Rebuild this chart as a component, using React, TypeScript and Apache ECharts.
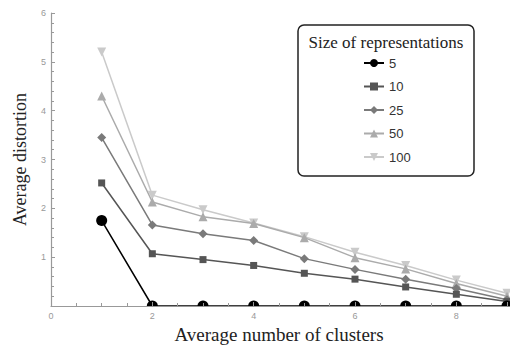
import React, { useEffect, useRef } from "react";
import * as echarts from "echarts";

const clusters = [1, 2, 3, 4, 5, 6, 7, 8, 9];
const seriesNames = ["5", "10", "25", "50", "100"];
const s5 = [1.75, 0, 0, 0, 0, 0, 0, 0, 0];
const s10 = [2.52, 1.07, 0.95, 0.83, 0.67, 0.55, 0.39, 0.24, 0.09];
const s25 = [3.45, 1.66, 1.48, 1.34, 0.97, 0.75, 0.55, 0.36, 0.13];
const s50 = [4.3, 2.13, 1.83, 1.69, 1.4, 0.99, 0.76, 0.46, 0.2];
const s100 = [5.2, 2.27, 1.97, 1.7, 1.42, 1.1, 0.83, 0.53, 0.26];
const allValues = [s5, s10, s25, s50, s100];

const colors = ["#000000", "#555555", "#7a7a7a", "#ababab", "#cacaca"];
const symbols = ["circle", "rect", "diamond", "triangle", "triangle"];
const symbolSizes = [11, 7, 9, 9, 9];
const rotates = [0, 0, 0, 0, 180];

export default function App() {
  const ref = useRef<HTMLDivElement>(null);
  useEffect(() => {
    if (!ref.current) return;
    const chart = echarts.init(ref.current, null, { renderer: "svg" });
    const series = seriesNames.map((name, i) => ({
      name,
      type: "line",
      data: clusters.map((x, j) => [x, allValues[i][j]]),
      symbol: symbols[i],
      symbolSize: symbolSizes[i],
      symbolRotate: rotates[i],
      showAllSymbol: true,
      clip: false,
      lineStyle: { color: colors[i], width: 1.5 },
      itemStyle: { color: colors[i] },
      z: 10 - i,
    }));
    chart.setOption({
      animation: false,
      backgroundColor: "#ffffff",
      grid: { left: 51, right: 3, top: 13, bottom: 40, containLabel: false, outerBoundsMode: "none" },
      xAxis: {
        type: "value",
        min: 0,
        max: 9,
        interval: 2,
        z: 30,
        name: "Average number of clusters",
        nameLocation: "middle",
        nameGap: 19,
        nameTextStyle: { fontFamily: "Liberation Serif", fontSize: 19, color: "#222" },
        axisLine: { lineStyle: { color: "#999", width: 1.2 } },
        axisTick: { inside: true, length: 4, lineStyle: { color: "#999" } },
        minorTick: { show: true, splitNumber: 4, length: 3, lineStyle: { color: "#999" } },
        splitLine: { show: false },
        axisLabel: { showMaxLabel: false, color: "#999", fontSize: 9, margin: 5, fontFamily: "Liberation Sans" },
      },
      yAxis: {
        type: "value",
        min: 0,
        max: 6,
        interval: 1,
        z: 30,
        name: "Average distortion",
        nameLocation: "middle",
        nameGap: 22,
        nameTextStyle: { fontFamily: "Liberation Serif", fontSize: 18, color: "#222" },
        axisLine: { show: true, lineStyle: { color: "#999", width: 1.2 } },
        axisTick: { show: true, inside: true, length: 4, lineStyle: { color: "#999" } },
        minorTick: { show: true, splitNumber: 5, length: 3, lineStyle: { color: "#999" } },
        splitLine: { show: false },
        axisLabel: { showMinLabel: false, color: "#999", fontSize: 9, margin: 5, fontFamily: "Liberation Sans" },
      },
      legend: {
        orient: "vertical",
        left: 363,
        top: 56.5,
        padding: 0,
        itemWidth: 20,
        itemHeight: 10,
        itemGap: 10.5,
        data: seriesNames,
        textStyle: { color: "#333", fontSize: 13, fontFamily: "Liberation Sans" },
        z: 20,
      },
      graphic: [
        {
          type: "rect",
          shape: { x: 51, y: 306.6, width: 459, height: 5.5 },
          style: { fill: "#fff" },
          z: 25,
        },
        {
          type: "rect",
          shape: { x: 298, y: 25, width: 176, height: 151, r: 6 },
          style: { fill: "#fff", stroke: "#222", lineWidth: 1.5 },
          z: 15,
        },
        {
          type: "text",
          x: 386,
          y: 42,
          style: {
            text: "Size of representations",
            font: "17px 'Liberation Serif', serif",
            fontFamily: "Liberation Serif",
            fontSize: 17,
            fill: "#222",
            align: "center",
            verticalAlign: "middle",
          },
          z: 16,
        },
      ],
      series,
    });
    return () => chart.dispose();
  }, []);
  return (
    <div
      ref={ref}
      style={{ position: "fixed", left: 0, top: 0, width: 510, height: 346 }}
    />
  );
}
